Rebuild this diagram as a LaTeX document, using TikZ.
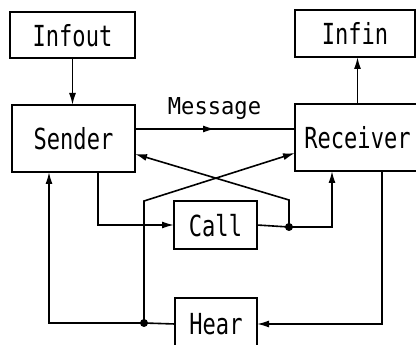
\documentclass[tikz,border=0pt]{standalone}
\usepackage{fontspec}
\usetikzlibrary{arrows.meta}
\newfontfamily\boxfont[FakeStretch=0.76]{DejaVu Sans Mono}
\newfontfamily\msgfont[FakeStretch=0.95]{DejaVu Sans Mono}
\tikzset{
  box/.style={draw, line width=1.6pt, inner sep=0pt, outer sep=0pt,
    text depth=0pt, font=\boxfont\fontsize{29}{30}\selectfont},
  wire/.style={line width=1.6pt},
  arr/.style={wire, -{Latex[length=12pt,width=7pt]}},
  junction/.style={circle, fill, inner sep=0pt, minimum size=8pt}
}
\begin{document}
\begin{tikzpicture}[x=1pt, y=-1pt]
  \clip (0,0) rectangle (416,345);
  \useasboundingbox (0,0) rectangle (416,345);

  % boxes
  \node[box, minimum width=125pt, minimum height=46pt] (infout) at (72.5,35) {Infout};
  \node[box, minimum width=123pt, minimum height=67pt] (sender) at (73.5,138.5) {Sender};
  \node[box, minimum width=120pt, minimum height=47pt] (infin) at (355,33.5) {Infin};
  \node[box, minimum width=125pt, minimum height=67pt] (receiver) at (357.5,137.5) {Receiver};
  \node[box, minimum width=83pt, minimum height=48pt] (call) at (215.5,225) {Call};
  \node[box, minimum width=82pt, minimum height=52pt] (hear) at (216,324) {Hear};

  % label on the message line
  \node[font=\msgfont\fontsize{23.3}{25}\selectfont, anchor=base, inner sep=0pt] (msglabel) at (214.5,115) {Message};

  % helper points
  \coordinate (mid) at (215,129);
  \coordinate (xa) at (49,0);
  \coordinate (xb) at (98,0);
  \coordinate (xc) at (332,0);
  \coordinate (xd) at (382,0);
  \coordinate (ya) at (0,154);
  \coordinate (yb) at (0,153);
  \coordinate (jc) at (289,227);
  \coordinate (jh) at (144,323);
  \coordinate (bc) at (289,200);
  \coordinate (bh) at (144,201);

  % vertical info flows
  \draw[arr] (infout.south) -- (infout.south |- sender.north);
  \draw[arr] (receiver.north) -- (receiver.north |- infin.south);

  % message
  \draw[wire] (sender.east |- mid) -- (receiver.west |- mid);
  \draw[arr] (sender.east |- mid) -- (mid);

  % sender -> call -> receiver
  \draw[arr] (sender.south -| xb) |- (call.west);
  \draw[arr] (call.east) -- (jc) -| (receiver.south -| xc);

  % receiver -> hear -> sender
  \draw[arr] (receiver.south -| xd) |- (hear.east);
  \draw[arr] (hear.west) -- (jh) -| (sender.south -| xa);

  % crossing feedback lines
  \draw[arr] (jc) -- (bc) -- (sender.east |- ya);
  \draw[arr] (jh) -- (bh) -- (receiver.west |- yb);

  % junction dots
  \node[junction] (dc) at (jc) {};
  \node[junction] (dh) at (jh) {};
\end{tikzpicture}
\end{document}
